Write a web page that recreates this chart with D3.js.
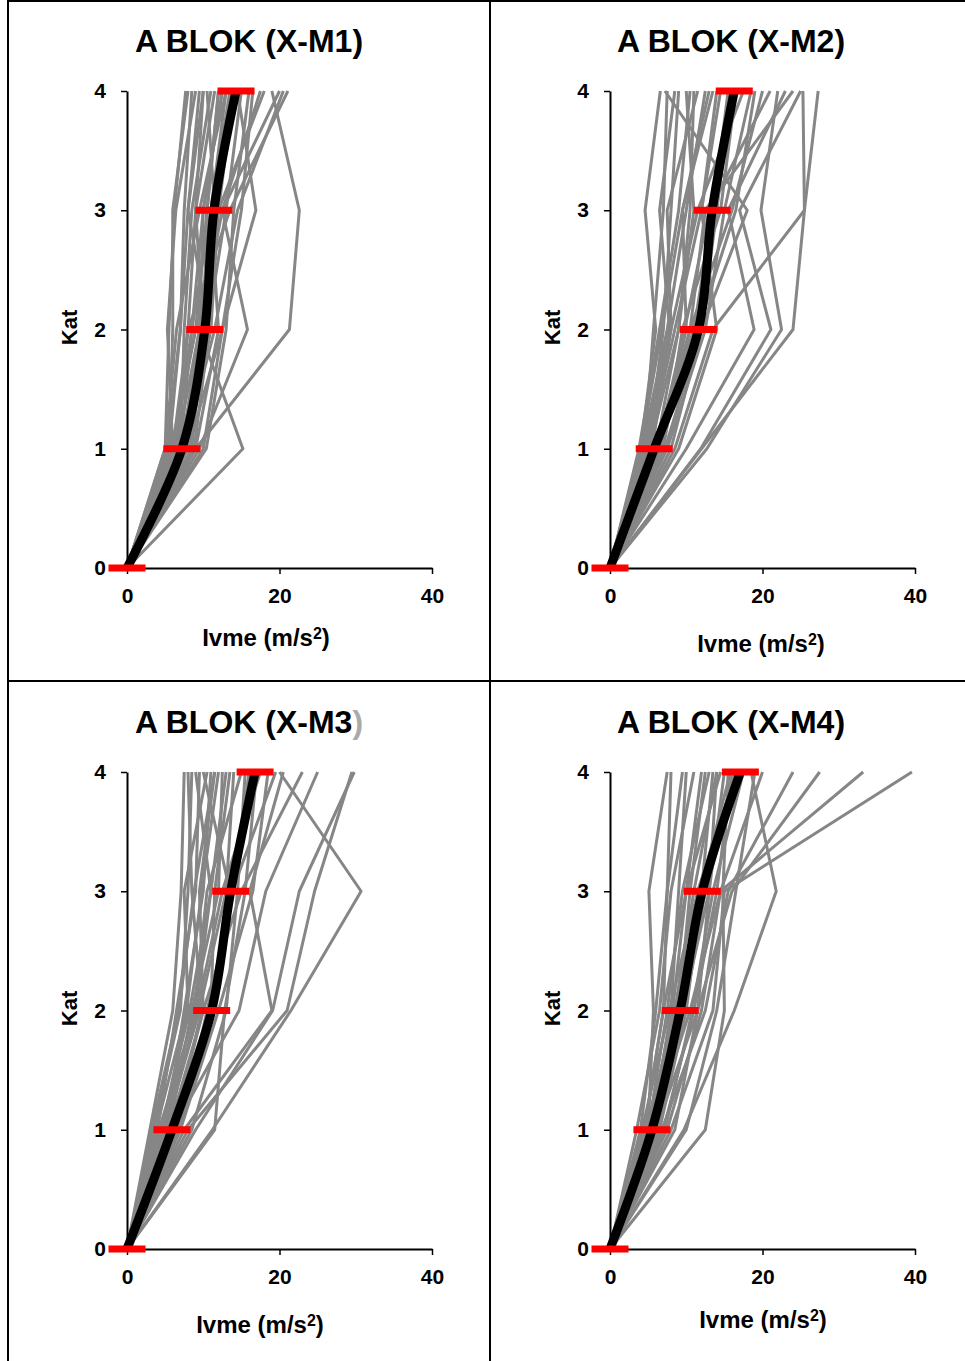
<!DOCTYPE html>
<html>
<head>
<meta charset="utf-8">
<script src="https://cdn.jsdelivr.net/npm/d3@7"></script>
<style>
  body { margin: 0; background: #fff; }
  text { font-family: "Liberation Sans", Arial, sans-serif; font-weight: bold; }
</style>
</head>
<body>
<div class="chart"></div>
<script>
// kat levels (y) and x ticks
var katLevels = [0, 1, 2, 3, 4];
var xTicks = [0, 20, 40];
var titles = ["A BLOK (X-M1)", "A BLOK (X-M2)", "A BLOK (X-M3", "A BLOK (X-M4)"];

// mean ivme for kat 0..4
var meanM1 = [0, 7.2, 10.2, 11.4, 14.3];
var meanM2 = [0, 5.8, 11.6, 13.4, 16.3];
var meanM3 = [0, 5.9, 11.1, 13.6, 16.8];
var meanM4 = [0, 5.5, 9.2, 12.1, 17.1];

// individual runs, values at kat 1..4 (kat 0 is always 0)
var runsM1 = [
  [5.0, 5.5, 6.2, 7.7], [5.5, 6.0, 6.0, 8.0], [6.0, 5.3, 6.4, 9.0], [5.2, 7.0, 7.5, 8.5],
  [6.5, 8.0, 9.0, 10.0], [7.0, 7.5, 8.5, 11.0], [5.8, 9.0, 10.5, 12.0], [6.2, 8.5, 11.0, 13.5],
  [7.5, 10.0, 9.0, 11.5], [8.0, 11.0, 12.0, 14.0], [6.8, 10.5, 13.0, 15.0], [9.0, 12.0, 11.0, 13.0],
  [10.4, 13.0, 14.0, 16.0], [7.2, 9.5, 12.5, 17.5], [9.0, 21.3, 22.6, 19.0], [15.2, 9.5, 10.0, 12.5],
  [9.5, 15.8, 12.5, 20.0], [8.0, 12.5, 16.9, 14.5], [6.0, 8.0, 13.5, 21.1], [7.5, 11.5, 14.5, 20.5],
  [5.5, 7.0, 8.0, 9.5], [8.5, 10.0, 10.5, 12.0], [6.5, 9.5, 11.5, 10.5], [10.0, 12.5, 15.0, 16.5],
  [7.0, 8.5, 10.0, 12.5], [5.0, 6.5, 9.5, 13.0], [8.8, 10.8, 8.0, 10.0], [6.0, 9.0, 12.0, 18.0]
];
var runsM2 = [
  [4.0, 6.0, 4.6, 6.6], [4.5, 5.7, 7.0, 7.5], [5.0, 7.0, 8.0, 9.0], [3.8, 6.5, 9.0, 10.5],
  [5.5, 8.0, 7.5, 11.5], [4.2, 7.5, 10.0, 12.5], [6.0, 9.0, 11.0, 10.0], [5.0, 8.5, 12.0, 14.0],
  [6.5, 10.0, 9.5, 13.0], [5.8, 11.0, 13.5, 15.5], [7.0, 9.5, 14.5, 16.5], [8.0, 12.0, 18.0, 7.2],
  [12.0, 24.0, 25.5, 25.3], [12.7, 22.5, 19.8, 22.0], [11.9, 21.1, 17.0, 25.0], [10.0, 18.9, 15.5, 23.0],
  [8.5, 13.5, 25.5, 27.3], [6.0, 10.5, 16.0, 20.0], [7.5, 12.5, 15.0, 18.5], [4.8, 8.0, 11.5, 17.5],
  [6.2, 9.8, 13.0, 21.0], [5.5, 11.5, 16.5, 19.0], [9.0, 14.0, 12.0, 14.5], [4.5, 7.8, 6.5, 8.5],
  [6.8, 10.5, 12.5, 24.0], [5.2, 9.0, 10.5, 11.0], [7.2, 12.0, 14.0, 16.0], [4.0, 6.8, 9.5, 13.5]
];
var runsM3 = [
  [3.0, 6.0, 7.1, 7.5], [3.5, 7.0, 8.0, 8.5], [4.0, 6.5, 9.0, 9.5], [4.5, 8.0, 7.5, 10.5],
  [5.0, 7.5, 10.0, 11.0], [4.2, 9.0, 11.0, 9.0], [5.5, 8.5, 12.0, 12.5], [6.0, 10.0, 9.5, 11.5],
  [5.0, 9.5, 13.0, 14.0], [6.5, 11.0, 11.5, 13.5], [4.8, 8.8, 10.5, 15.0], [7.0, 10.5, 14.0, 16.0],
  [11.5, 12.8, 15.5, 17.0], [11.2, 21.5, 30.7, 20.0], [9.0, 19.1, 22.6, 29.8], [8.0, 21.0, 24.6, 29.5],
  [7.5, 19.0, 16.1, 20.5], [6.0, 14.7, 18.2, 25.0], [5.5, 10.0, 15.0, 23.0], [7.0, 12.0, 16.5, 18.5],
  [3.8, 7.8, 9.8, 12.0], [5.2, 9.2, 12.5, 17.5], [6.8, 11.5, 13.5, 10.0], [4.5, 8.2, 11.0, 13.0],
  [8.5, 13.0, 14.5, 15.5], [6.2, 9.8, 8.5, 8.0], [3.2, 6.8, 8.8, 11.5], [5.8, 10.8, 13.8, 19.5]
];
var runsM4 = [
  [5.0, 5.7, 5.1, 7.5], [4.0, 6.0, 7.5, 8.0], [4.5, 7.0, 7.5, 9.5], [5.5, 8.0, 9.0, 10.0],
  [3.5, 6.5, 8.0, 11.0], [6.0, 9.0, 10.5, 12.5], [5.0, 7.5, 9.5, 13.0], [4.8, 8.5, 11.0, 14.0],
  [6.5, 10.0, 12.0, 13.5], [5.8, 9.5, 13.0, 15.0], [7.0, 11.0, 14.0, 16.0], [5.2, 8.2, 10.0, 14.5],
  [12.5, 15.0, 14.8, 15.5], [9.7, 16.3, 21.8, 18.5], [8.0, 13.5, 15.0, 39.6], [7.5, 12.0, 14.5, 33.2],
  [6.0, 11.5, 16.0, 27.5], [6.8, 12.5, 15.5, 24.0], [5.5, 10.5, 14.5, 20.0], [10.0, 14.0, 16.5, 19.0],
  [4.2, 7.8, 11.5, 16.5], [6.2, 9.8, 12.5, 17.0], [4.5, 7.0, 10.0, 12.0], [7.2, 10.8, 13.5, 17.5],
  [5.0, 8.8, 11.8, 15.8], [8.5, 11.5, 13.0, 14.0]
];

var means = [meanM1, meanM2, meanM3, meanM4];
var runs = [runsM1, runsM2, runsM3, runsM4];

var W = 965, H = 1361;
var svg = d3.select(".chart").append("svg")
    .attr("width", W)
    .attr("height", H);

// panel frame lines
svg.append("line").attr("x1", 8).attr("x2", 8).attr("y1", 0).attr("y2", H)
    .attr("stroke", "black").attr("stroke-width", 2);
svg.append("line").attr("x1", 8).attr("x2", W).attr("y1", 1).attr("y2", 1)
    .attr("stroke", "black").attr("stroke-width", 2);
svg.append("line").attr("x1", 490).attr("x2", 490).attr("y1", 0).attr("y2", H)
    .attr("stroke", "black").attr("stroke-width", 2);
svg.append("line").attr("x1", 8).attr("x2", W).attr("y1", 681).attr("y2", 681)
    .attr("stroke", "black").attr("stroke-width", 2);

// panel layout: plot origin, title centre, x label position
var panels = [
  { x0: 127, top: 91, tx: 249, ty: 52, lx: 266, ly: 646 },
  { x0: 610, top: 91, tx: 731, ty: 52, lx: 761, ly: 652 },
  { x0: 127, top: 772, tx: 249, ty: 733, lx: 260, ly: 1333 },
  { x0: 610, top: 772, tx: 731, ty: 733, lx: 763, ly: 1328 }
];
var plotW = 305, plotH = 477;

panels.forEach(function (p, i) {
    var g = svg.append("g")
        .attr("transform", "translate(" + p.x0 + "," + p.top + ")");

    var x = d3.scaleLinear().domain([0, 40]).range([0, plotW]);
    var y = d3.scaleLinear().domain([0, 4]).range([plotH, 0]);

    // axes
    var xAxis = g.append("g")
        .attr("transform", "translate(0," + plotH + ")")
        .call(d3.axisBottom(x).tickValues(xTicks).tickFormat(d3.format("d"))
            .tickSize(6).tickSizeOuter(0).tickPadding(10));
    var yAxis = g.append("g")
        .call(d3.axisLeft(y).tickValues(katLevels).tickFormat(d3.format("d"))
            .tickSize(6).tickSizeOuter(0).tickPadding(15));
    [xAxis, yAxis].forEach(function (a) {
        a.select(".domain").attr("stroke", "black").attr("stroke-width", 2);
        a.selectAll(".tick line").attr("stroke", "black").attr("stroke-width", 1.5);
        a.selectAll(".tick text")
            .attr("fill", "black")
            .style("font-size", "21px")
            .style("font-family", "Liberation Sans, Arial, sans-serif")
            .style("font-weight", "bold");
    });
    xAxis.selectAll(".tick text").attr("dy", "0.9em");

    var line = d3.line()
        .x(function (d) { return x(d[0]); })
        .y(function (d) { return y(d[1]); });

    // gray individual runs
    runs[i].forEach(function (r) {
        var pts = [[0, 0]].concat(r.map(function (v, k) { return [v, k + 1]; }));
        g.append("path")
            .datum(pts)
            .attr("fill", "none")
            .attr("stroke", "#868686")
            .attr("stroke-width", 3)
            .attr("stroke-linejoin", "round")
            .attr("d", line);
    });

    // black mean line (smoothed)
    var meanPts = means[i].map(function (v, k) { return [v, katLevels[k]]; });
    var smooth = d3.line()
        .x(function (d) { return x(d[0]); })
        .y(function (d) { return y(d[1]); })
        .curve(d3.curveCatmullRom.alpha(0.5));
    g.append("path")
        .datum(meanPts)
        .attr("fill", "none")
        .attr("stroke", "black")
        .attr("stroke-width", 9)
        .attr("d", smooth);

    // red markers
    g.selectAll("rect.mk")
        .data(meanPts)
        .enter().append("rect")
        .attr("class", "mk")
        .attr("x", function (d) { return x(d[0]) - 18.5; })
        .attr("y", function (d) { return y(d[1]) - 3.5; })
        .attr("width", 37)
        .attr("height", 7)
        .attr("fill", "#ff0000");

    // title
    var t = svg.append("text")
        .attr("x", p.tx)
        .attr("y", p.ty)
        .style("text-anchor", "middle")
        .style("font-size", "32px")
        .text(titles[i]);
    if (i == 2) t.append("tspan").attr("fill", "#aaaaaa").text(")");

    // x label
    var xl = svg.append("text")
        .attr("x", p.lx)
        .attr("y", p.ly)
        .style("text-anchor", "middle")
        .style("font-size", "24px")
        .text("Ivme (m/s");
    xl.append("tspan").attr("dy", "-0.45em").style("font-size", "16px").text("2");
    xl.append("tspan").attr("dy", "0.3em").text(")");

    // y label
    svg.append("text")
        .attr("transform", "translate(" + (p.x0 - 50) + "," + (p.top + plotH / 2 - 2) + ") rotate(-90)")
        .style("text-anchor", "middle")
        .style("font-size", "22px")
        .text("Kat");
});
</script>
</body>
</html>
